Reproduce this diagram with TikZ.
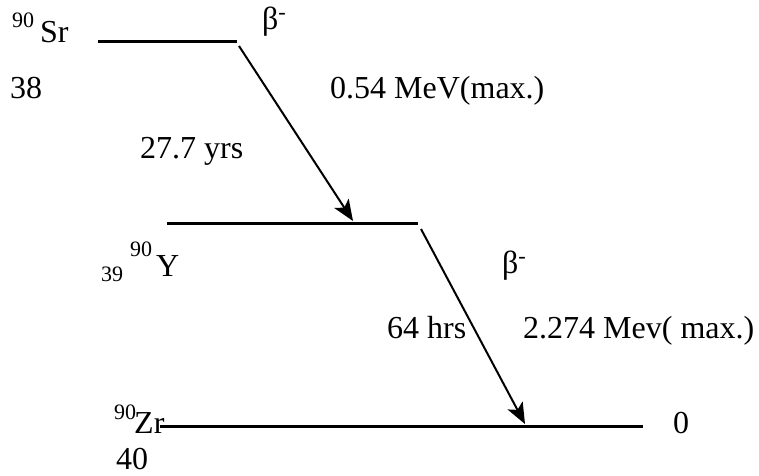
\documentclass[tikz,border=0pt]{standalone}
\usepackage{fontspec}
\setmainfont{Liberation Serif}
\usetikzlibrary{arrows.meta}

\begin{document}
\begin{tikzpicture}[x=1pt, y=-1pt,
  level/.style={black, line width=3pt},
  decay/.style={black, line width=2pt, -{Stealth[length=21pt, width=17pt, inset=5pt]}},
  lbl/.style={anchor=base west, inner sep=0pt, font=\fontsize{32}{38}\selectfont},
  iso/.style={anchor=base west, inner sep=0pt, font=\fontsize{22}{26}\selectfont}]

  \useasboundingbox (0,0) rectangle (759,475);

  % energy levels
  \coordinate (srL) at (98,41);   \coordinate (srR) at (237,41);
  \coordinate (yL) at (167,223);  \coordinate (yR) at (418,223);
  \coordinate (zrL) at (160,426); \coordinate (zrR) at (643,426);
  \draw[level] (srL) -- (srR);
  \draw[level] (yL) -- (yR);
  \draw[level] (zrL) -- (zrR);

  % Sr-90
  \node[iso] (srA) at (12,27) {90};
  \node[lbl] (srN) at (40,42) {Sr};
  \node[lbl] (srZ) at (10,98) {38};

  % Y-90
  \node[iso] (yZ) at (101,281) {39};
  \node[iso] (yA) at (130,256) {90};
  \node[lbl] (yN) at (156,276) {Y};

  % Zr-90
  \node[iso] (zrA) at (114,419) {90};
  \node[lbl] (zrN) at (134,433) {Zr};
  \node[lbl] (zrZ) at (116,469) {40};
  \node[lbl] (zrE) at (673,433) {0};

  % first decay
  \coordinate (d1s) at (239,46);  \coordinate (d1e) at (353,221);
  \draw[decay] (d1s) -- (d1e);
  \node[lbl] (b1) at (262,29) {β\textsuperscript{-}};
  \node[lbl] (e1) at (330,98) {0.54 MeV(max.)};
  \node[lbl] (t1) at (140,158) {27.7 yrs};

  % second decay
  \coordinate (d2s) at (421,229); \coordinate (d2e) at (525,424);
  \draw[decay] (d2s) -- (d2e);
  \node[lbl] (b2) at (502,273) {β\textsuperscript{-}};
  \node[lbl] (t2) at (387,338) {64 hrs};
  \node[lbl] (e2) at (523,338) {2.274 Mev( max.)};
\end{tikzpicture}
\end{document}
